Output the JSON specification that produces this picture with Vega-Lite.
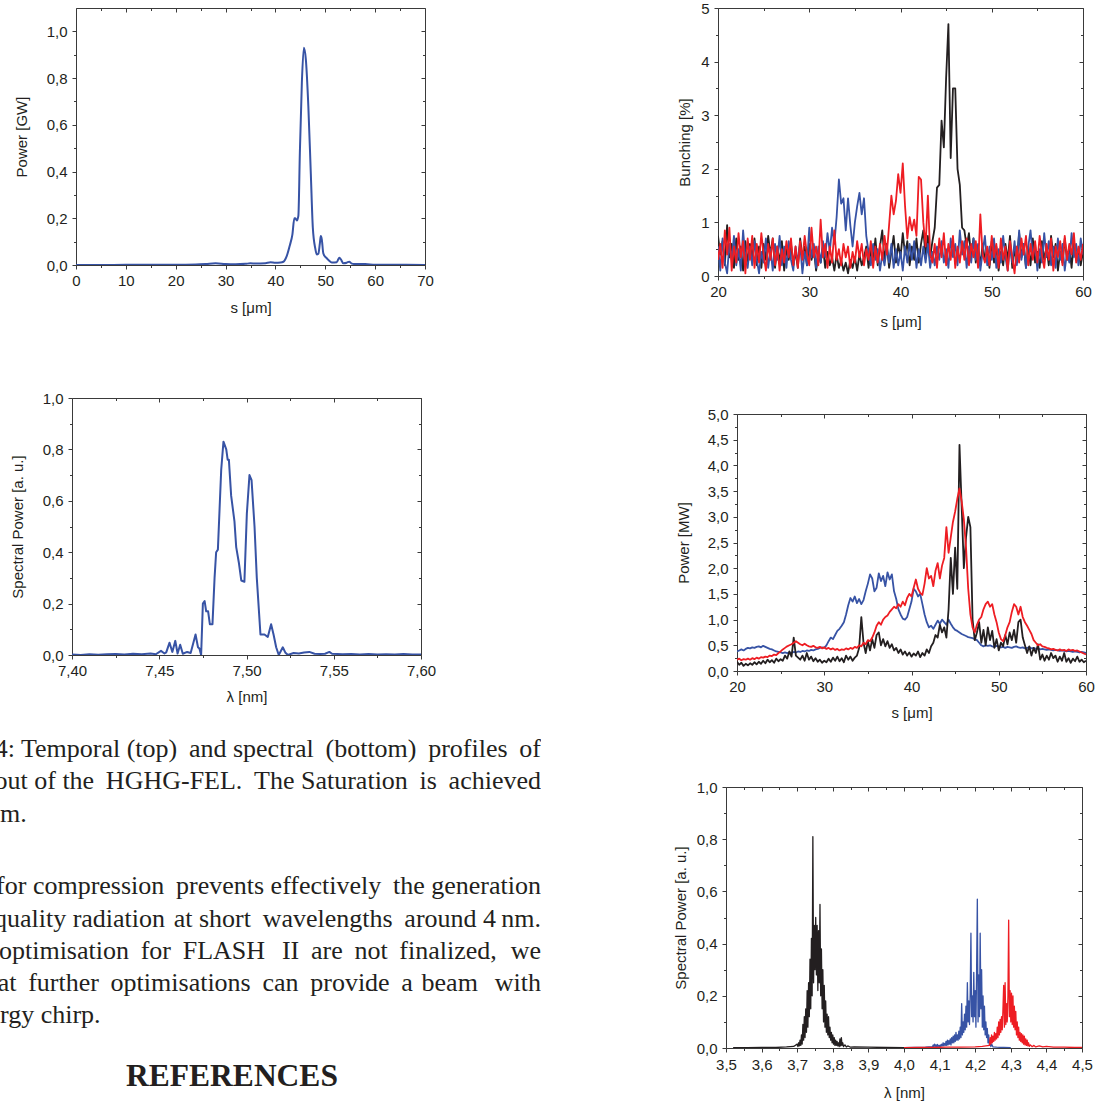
{
"$schema": "https://vega.github.io/schema/vega-lite/v6.json",
"padding": {"left": 0, "top": 0, "right": 0, "bottom": 0},
"background": "white",
"config": {
 "view": {"stroke": "#3a3a3a", "strokeWidth": 1},
 "axis": {"labelFont": "Liberation Sans", "labelFontSize": 15, "titleFont": "Liberation Sans", "titleFontSize": 15, "titleFontWeight": "normal", "labelColor": "#231f20", "titleColor": "#231f20", "tickColor": "#3a3a3a", "tickWidth": 1, "domain": false, "grid": false, "labelFlush": false, "labelOverlap": false},
 "line": {"strokeJoin": "round"}
},
"datasets": {
 "c1": [{"s":0,"p":0},{"s":5,"p":0.0},{"s":10,"p":0.001},{"s":15,"p":0.001},{"s":20,"p":0.001},{"s":24,"p":0.002},{"s":26,"p":0.004},{"s":28,"p":0.007},{"s":30,"p":0.004},{"s":32,"p":0.003},{"s":34,"p":0.005},{"s":35,"p":0.007},{"s":36,"p":0.006},{"s":38,"p":0.008},{"s":39,"p":0.012},{"s":40,"p":0.01},{"s":41,"p":0.011},{"s":41.6,"p":0.014},{"s":42.3,"p":0.04},{"s":42.9,"p":0.085},{"s":43.4,"p":0.13},{"s":43.8,"p":0.2},{"s":44.0,"p":0.2},{"s":44.3,"p":0.19},{"s":44.6,"p":0.21},{"s":44.9,"p":0.48},{"s":45.3,"p":0.78},{"s":45.7,"p":0.93},{"s":46.1,"p":0.88},{"s":46.6,"p":0.68},{"s":47.1,"p":0.39},{"s":47.5,"p":0.16},{"s":48.0,"p":0.07},{"s":48.3,"p":0.045},{"s":48.6,"p":0.048},{"s":48.9,"p":0.09},{"s":49.1,"p":0.124},{"s":49.3,"p":0.11},{"s":49.6,"p":0.05},{"s":50.0,"p":0.035},{"s":50.3,"p":0.029},{"s":50.8,"p":0.018},{"s":51.3,"p":0.011},{"s":52.3,"p":0.012},{"s":52.8,"p":0.031},{"s":53.1,"p":0.025},{"s":53.6,"p":0.008},{"s":54.3,"p":0.01},{"s":54.8,"p":0.014},{"s":55.3,"p":0.006},{"s":56,"p":0.004},{"s":58,"p":0.004},{"s":60,"p":0.001},{"s":65,"p":0.001},{"s":70,"p":0}],
 "c2": [{"l":7.4,"p":0.002},{"l":7.405,"p":0.0},{"l":7.41,"p":0.003},{"l":7.415,"p":0.001},{"l":7.42,"p":0.003},{"l":7.425,"p":0.004},{"l":7.43,"p":0.002},{"l":7.435,"p":0.005},{"l":7.44,"p":0.003},{"l":7.445,"p":0.006},{"l":7.448,"p":0.003},{"l":7.451,"p":0.016},{"l":7.453,"p":0.006},{"l":7.454,"p":0.01},{"l":7.4559,"p":0.048},{"l":7.4575,"p":0.012},{"l":7.4592,"p":0.055},{"l":7.4605,"p":0.006},{"l":7.462,"p":0.04},{"l":7.4635,"p":0.005},{"l":7.466,"p":0.012},{"l":7.468,"p":0.008},{"l":7.4708,"p":0.08},{"l":7.4722,"p":0.03},{"l":7.473,"p":0.025},{"l":7.474,"p":0.0},{"l":7.475,"p":0.2},{"l":7.476,"p":0.21},{"l":7.4769,"p":0.17},{"l":7.478,"p":0.17},{"l":7.479,"p":0.12},{"l":7.4805,"p":0.12},{"l":7.4817,"p":0.3},{"l":7.4826,"p":0.4},{"l":7.4836,"p":0.41},{"l":7.4855,"p":0.72},{"l":7.4868,"p":0.83},{"l":7.4884,"p":0.8},{"l":7.4892,"p":0.76},{"l":7.4899,"p":0.76},{"l":7.4912,"p":0.62},{"l":7.4931,"p":0.52},{"l":7.4941,"p":0.42},{"l":7.4956,"p":0.36},{"l":7.497,"p":0.29},{"l":7.4988,"p":0.285},{"l":7.5002,"p":0.55},{"l":7.5017,"p":0.7},{"l":7.5029,"p":0.68},{"l":7.5046,"p":0.5},{"l":7.5059,"p":0.3},{"l":7.508,"p":0.08},{"l":7.5103,"p":0.08},{"l":7.5122,"p":0.07},{"l":7.5141,"p":0.12},{"l":7.5155,"p":0.08},{"l":7.517,"p":0.03},{"l":7.5185,"p":0.0},{"l":7.5208,"p":0.03},{"l":7.5222,"p":0.01},{"l":7.5237,"p":0.0},{"l":7.527,"p":0.008},{"l":7.53,"p":0.006},{"l":7.533,"p":0.01},{"l":7.536,"p":0.012},{"l":7.539,"p":0.005},{"l":7.542,"p":0.004},{"l":7.545,"p":0.005},{"l":7.5475,"p":0.012},{"l":7.549,"p":0.005},{"l":7.555,"p":0.003},{"l":7.56,"p":0.004},{"l":7.565,"p":0.002},{"l":7.57,"p":0.004},{"l":7.575,"p":0.002},{"l":7.58,"p":0.003},{"l":7.585,"p":0.002},{"l":7.59,"p":0.004},{"l":7.595,"p":0.002},{"l":7.6,"p":0.002}],
 "c3": [{"s":20,"k":0.75,"b":0.55,"r":0.3},{"s":20.25,"k":0.4,"b":0.1,"r":0.6},{"s":20.5,"k":0.65,"b":0.7,"r":0.15},{"s":20.75,"k":0.2,"b":0.25,"r":0.85},{"s":21,"k":0.95,"b":0.05,"r":0.4},{"s":21.25,"k":0.35,"b":0.6,"r":0.9},{"s":21.5,"k":0.6,"b":0.3,"r":0.1},{"s":21.75,"k":0.15,"b":0.75,"r":0.55},{"s":22,"k":0.7,"b":0.2,"r":0.25},{"s":22.25,"k":0.3,"b":0.5,"r":0.8},{"s":22.5,"k":0.55,"b":0.1,"r":0.35},{"s":22.75,"k":0.1,"b":0.85,"r":0.65},{"s":23,"k":0.65,"b":0.35,"r":0.05},{"s":23.25,"k":0.25,"b":0.15,"r":0.7},{"s":23.5,"k":0.6,"b":0.55,"r":0.3},{"s":23.75,"k":0.35,"b":0.2,"r":0.75},{"s":24,"k":0.7,"b":0.65,"r":0.15},{"s":24.25,"k":0.2,"b":0.3,"r":0.6},{"s":24.5,"k":0.55,"b":0.05,"r":0.25},{"s":24.75,"k":0.15,"b":0.45,"r":0.8},{"s":25,"k":0.6,"b":0.25,"r":0.4},{"s":25.25,"k":0.3,"b":0.7,"r":0.1},{"s":25.5,"k":0.75,"b":0.15,"r":0.6},{"s":25.75,"k":0.4,"b":0.5,"r":0.3},{"s":26,"k":0.7,"b":0.1,"r":0.7},{"s":26.25,"k":0.15,"b":0.6,"r":0.2},{"s":26.5,"k":0.55,"b":0.3,"r":0.55},{"s":26.75,"k":0.25,"b":0.75,"r":0.1},{"s":27,"k":0.65,"b":0.2,"r":0.5},{"s":27.25,"k":0.1,"b":0.55,"r":0.25},{"s":27.5,"k":0.5,"b":0.15,"r":0.65},{"s":27.75,"k":0.3,"b":0.65,"r":0.35},{"s":28,"k":0.6,"b":0.3,"r":0.7},{"s":28.25,"k":0.2,"b":0.1,"r":0.2},{"s":28.5,"k":0.45,"b":0.55,"r":0.55},{"s":28.75,"k":0.15,"b":0.25,"r":0.15},{"s":29,"k":0.7,"b":0.6,"r":0.65},{"s":29.25,"k":0.35,"b":0.05,"r":0.3},{"s":29.5,"k":0.55,"b":0.45,"r":0.75},{"s":29.75,"k":0.2,"b":0.2,"r":0.4},{"s":30,"k":0.6,"b":0.9,"r":0.2},{"s":30.25,"k":0.3,"b":0.35,"r":0.9},{"s":30.5,"k":0.5,"b":0.6,"r":0.35},{"s":30.75,"k":0.1,"b":0.15,"r":0.55},{"s":31,"k":0.4,"b":0.55,"r":0.2},{"s":31.25,"k":0.25,"b":0.25,"r":1.05},{"s":31.5,"k":0.55,"b":0.65,"r":0.35},{"s":31.75,"k":0.15,"b":0.35,"r":0.6},{"s":32,"k":0.45,"b":0.8,"r":0.15},{"s":32.25,"k":0.2,"b":0.45,"r":0.55},{"s":32.5,"k":0.35,"b":0.9,"r":0.25},{"s":32.75,"k":0.1,"b":0.6,"r":0.85},{"s":33,"k":0.4,"b":1.1,"r":0.3},{"s":33.25,"k":0.15,"b":1.8,"r":0.5},{"s":33.5,"k":0.3,"b":1.35,"r":0.2},{"s":33.75,"k":0.1,"b":1.45,"r":0.6},{"s":34,"k":0.25,"b":0.85,"r":0.35},{"s":34.25,"k":0.05,"b":1.45,"r":0.55},{"s":34.5,"k":0.3,"b":0.95,"r":0.15},{"s":34.75,"k":0.15,"b":0.55,"r":0.45},{"s":35,"k":0.35,"b":1.0,"r":0.25},{"s":35.25,"k":0.1,"b":1.3,"r":0.65},{"s":35.5,"k":0.4,"b":1.55,"r":0.35},{"s":35.75,"k":0.2,"b":1.15,"r":0.6},{"s":36,"k":0.35,"b":1.45,"r":0.2},{"s":36.25,"k":0.55,"b":0.75,"r":0.5},{"s":36.5,"k":0.15,"b":0.45,"r":0.3},{"s":36.75,"k":0.5,"b":0.2,"r":0.65},{"s":37,"k":0.3,"b":0.6,"r":0.15},{"s":37.25,"k":0.7,"b":0.3,"r":0.55},{"s":37.5,"k":0.2,"b":0.5,"r":0.25},{"s":37.75,"k":0.55,"b":0.1,"r":0.6},{"s":38,"k":0.85,"b":0.4,"r":0.3},{"s":38.25,"k":0.3,"b":0.2,"r":0.75},{"s":38.5,"k":0.6,"b":0.55,"r":0.4},{"s":38.75,"k":0.15,"b":0.25,"r":0.95},{"s":39,"k":0.45,"b":0.6,"r":1.5},{"s":39.25,"k":0.75,"b":0.15,"r":1.15},{"s":39.5,"k":0.25,"b":0.5,"r":1.4},{"s":39.75,"k":0.6,"b":0.2,"r":1.9},{"s":40,"k":0.35,"b":0.45,"r":1.55},{"s":40.25,"k":0.8,"b":0.1,"r":2.1},{"s":40.5,"k":0.4,"b":0.55,"r":1.3},{"s":40.75,"k":0.65,"b":0.25,"r":0.7},{"s":41,"k":0.2,"b":0.6,"r":1.1},{"s":41.25,"k":0.55,"b":0.3,"r":0.85},{"s":41.5,"k":0.3,"b":0.65,"r":1.05},{"s":41.75,"k":0.7,"b":0.15,"r":0.75},{"s":42,"k":0.25,"b":0.5,"r":1.85},{"s":42.25,"k":0.6,"b":0.2,"r":1.8},{"s":42.5,"k":0.85,"b":0.55,"r":1.0},{"s":42.75,"k":0.4,"b":0.25,"r":0.55},{"s":43,"k":0.75,"b":0.6,"r":1.5},{"s":43.25,"k":0.35,"b":0.15,"r":0.4},{"s":43.5,"k":0.65,"b":0.45,"r":0.25},{"s":43.75,"k":0.9,"b":0.2,"r":0.6},{"s":44,"k":1.65,"b":0.55,"r":0.15},{"s":44.25,"k":1.7,"b":0.3,"r":0.7},{"s":44.5,"k":2.9,"b":0.65,"r":0.35},{"s":44.75,"k":2.4,"b":0.25,"r":0.8},{"s":45,"k":3.7,"b":0.5,"r":0.2},{"s":45.25,"k":4.7,"b":0.15,"r":0.6},{"s":45.5,"k":2.2,"b":0.7,"r":0.3},{"s":45.75,"k":3.5,"b":0.35,"r":0.75},{"s":46,"k":3.5,"b":0.6,"r":0.15},{"s":46.25,"k":2.0,"b":0.2,"r":0.55},{"s":46.5,"k":1.7,"b":0.85,"r":0.25},{"s":46.75,"k":0.9,"b":0.4,"r":0.65},{"s":47,"k":0.85,"b":0.65,"r":0.3},{"s":47.25,"k":0.55,"b":0.15,"r":0.7},{"s":47.5,"k":0.8,"b":0.55,"r":0.2},{"s":47.75,"k":0.35,"b":0.25,"r":0.6},{"s":48,"k":0.7,"b":0.7,"r":0.35},{"s":48.25,"k":0.25,"b":0.3,"r":0.65},{"s":48.5,"k":0.55,"b":0.6,"r":0.15},{"s":48.75,"k":0.2,"b":0.1,"r":1.15},{"s":49,"k":0.6,"b":0.45,"r":0.4},{"s":49.25,"k":0.3,"b":0.75,"r":0.25},{"s":49.5,"k":0.5,"b":0.2,"r":0.55},{"s":49.75,"k":0.15,"b":0.55,"r":0.2},{"s":50,"k":0.65,"b":0.3,"r":0.75},{"s":50.25,"k":0.25,"b":0.7,"r":0.35},{"s":50.5,"k":0.55,"b":0.15,"r":0.6},{"s":50.75,"k":0.1,"b":0.5,"r":0.15},{"s":51,"k":0.45,"b":0.25,"r":0.7},{"s":51.25,"k":0.2,"b":0.75,"r":0.3},{"s":51.5,"k":0.6,"b":0.35,"r":0.55},{"s":51.75,"k":0.3,"b":0.1,"r":0.1},{"s":52,"k":0.75,"b":0.55,"r":0.65},{"s":52.25,"k":0.15,"b":0.25,"r":0.35},{"s":52.5,"k":0.5,"b":0.65,"r":0.05},{"s":52.75,"k":0.25,"b":0.2,"r":0.55},{"s":53,"k":0.8,"b":0.85,"r":0.25},{"s":53.25,"k":0.35,"b":0.3,"r":0.7},{"s":53.5,"k":0.6,"b":0.6,"r":0.4},{"s":53.75,"k":0.15,"b":0.15,"r":0.75},{"s":54,"k":0.55,"b":0.55,"r":0.2},{"s":54.25,"k":0.2,"b":0.85,"r":0.6},{"s":54.5,"k":0.7,"b":0.35,"r":0.3},{"s":54.75,"k":0.25,"b":0.6,"r":0.65},{"s":55,"k":0.45,"b":0.1,"r":0.25},{"s":55.25,"k":0.15,"b":0.5,"r":0.75},{"s":55.5,"k":0.65,"b":0.25,"r":0.4},{"s":55.75,"k":0.3,"b":0.8,"r":0.15},{"s":56,"k":0.55,"b":0.35,"r":0.6},{"s":56.25,"k":0.2,"b":0.65,"r":0.3},{"s":56.5,"k":0.75,"b":0.2,"r":0.7},{"s":56.75,"k":0.35,"b":0.55,"r":0.1},{"s":57,"k":0.6,"b":0.15,"r":0.55},{"s":57.25,"k":0.1,"b":0.7,"r":0.35},{"s":57.5,"k":0.45,"b":0.3,"r":0.65},{"s":57.75,"k":0.25,"b":0.6,"r":0.2},{"s":58,"k":0.7,"b":0.1,"r":0.75},{"s":58.25,"k":0.3,"b":0.45,"r":0.3},{"s":58.5,"k":0.55,"b":0.25,"r":0.6},{"s":58.75,"k":0.15,"b":0.8,"r":0.4},{"s":59,"k":0.65,"b":0.35,"r":0.8},{"s":59.25,"k":0.3,"b":0.6,"r":0.25},{"s":59.5,"k":0.5,"b":0.2,"r":0.55},{"s":59.75,"k":0.2,"b":0.7,"r":0.3},{"s":60,"k":0.45,"b":0.4,"r":0.6}],
 "c4": [{"s":20,"k":0.18,"b":0.38,"r":0.22},{"s":20.25,"k":0.12,"b":0.4,"r":0.24},{"s":20.5,"k":0.16,"b":0.42,"r":0.21},{"s":20.75,"k":0.1,"b":0.4,"r":0.23},{"s":21,"k":0.14,"b":0.43,"r":0.22},{"s":21.25,"k":0.11,"b":0.45,"r":0.24},{"s":21.5,"k":0.15,"b":0.44,"r":0.22},{"s":21.75,"k":0.12,"b":0.46,"r":0.25},{"s":22,"k":0.17,"b":0.45,"r":0.23},{"s":22.25,"k":0.13,"b":0.47,"r":0.26},{"s":22.5,"k":0.18,"b":0.48,"r":0.24},{"s":22.75,"k":0.14,"b":0.46,"r":0.27},{"s":23,"k":0.2,"b":0.49,"r":0.26},{"s":23.25,"k":0.15,"b":0.47,"r":0.28},{"s":23.5,"k":0.22,"b":0.45,"r":0.27},{"s":23.75,"k":0.17,"b":0.43,"r":0.3},{"s":24,"k":0.21,"b":0.42,"r":0.29},{"s":24.25,"k":0.16,"b":0.4,"r":0.32},{"s":24.5,"k":0.24,"b":0.38,"r":0.31},{"s":24.75,"k":0.19,"b":0.37,"r":0.35},{"s":25,"k":0.23,"b":0.36,"r":0.38},{"s":25.25,"k":0.2,"b":0.35,"r":0.42},{"s":25.5,"k":0.3,"b":0.36,"r":0.45},{"s":25.75,"k":0.24,"b":0.35,"r":0.48},{"s":26,"k":0.38,"b":0.36,"r":0.5},{"s":26.25,"k":0.28,"b":0.35,"r":0.52},{"s":26.5,"k":0.65,"b":0.37,"r":0.55},{"s":26.75,"k":0.3,"b":0.36,"r":0.58},{"s":27,"k":0.26,"b":0.38,"r":0.55},{"s":27.25,"k":0.22,"b":0.37,"r":0.52},{"s":27.5,"k":0.3,"b":0.39,"r":0.5},{"s":27.75,"k":0.2,"b":0.38,"r":0.53},{"s":28,"k":0.35,"b":0.4,"r":0.5},{"s":28.25,"k":0.22,"b":0.39,"r":0.48},{"s":28.5,"k":0.28,"b":0.41,"r":0.47},{"s":28.75,"k":0.19,"b":0.4,"r":0.49},{"s":29,"k":0.25,"b":0.42,"r":0.46},{"s":29.25,"k":0.18,"b":0.43,"r":0.45},{"s":29.5,"k":0.22,"b":0.45,"r":0.47},{"s":29.75,"k":0.16,"b":0.46,"r":0.44},{"s":30,"k":0.2,"b":0.45,"r":0.46},{"s":30.25,"k":0.17,"b":0.5,"r":0.43},{"s":30.5,"k":0.24,"b":0.58,"r":0.45},{"s":30.75,"k":0.18,"b":0.65,"r":0.42},{"s":31,"k":0.26,"b":0.62,"r":0.44},{"s":31.25,"k":0.2,"b":0.7,"r":0.41},{"s":31.5,"k":0.28,"b":0.78,"r":0.43},{"s":31.75,"k":0.19,"b":0.82,"r":0.4},{"s":32,"k":0.25,"b":0.88,"r":0.42},{"s":32.25,"k":0.17,"b":0.95,"r":0.41},{"s":32.5,"k":0.3,"b":1.1,"r":0.44},{"s":32.75,"k":0.22,"b":1.28,"r":0.42},{"s":33,"k":0.28,"b":1.42,"r":0.45},{"s":33.25,"k":0.2,"b":1.35,"r":0.43},{"s":33.5,"k":0.26,"b":1.45,"r":0.47},{"s":33.75,"k":0.3,"b":1.32,"r":0.45},{"s":34,"k":0.45,"b":1.4,"r":0.5},{"s":34.25,"k":1.05,"b":1.3,"r":0.48},{"s":34.5,"k":0.55,"b":1.38,"r":0.55},{"s":34.75,"k":0.35,"b":1.55,"r":0.52},{"s":35,"k":0.58,"b":1.7,"r":0.6},{"s":35.25,"k":0.4,"b":1.88,"r":0.58},{"s":35.5,"k":0.62,"b":1.8,"r":0.65},{"s":35.75,"k":0.45,"b":1.55,"r":0.75},{"s":36,"k":0.7,"b":1.62,"r":0.88},{"s":36.25,"k":0.75,"b":1.9,"r":0.95},{"s":36.5,"k":0.5,"b":1.75,"r":0.9},{"s":36.75,"k":0.62,"b":1.85,"r":1.0},{"s":37,"k":0.48,"b":1.65,"r":1.05},{"s":37.25,"k":0.58,"b":1.92,"r":1.08},{"s":37.5,"k":0.45,"b":1.78,"r":1.15},{"s":37.75,"k":0.52,"b":1.88,"r":1.2},{"s":38,"k":0.4,"b":1.55,"r":1.25},{"s":38.25,"k":0.45,"b":1.4,"r":1.22},{"s":38.5,"k":0.35,"b":1.2,"r":1.3},{"s":38.75,"k":0.42,"b":1.1,"r":1.25},{"s":39,"k":0.32,"b":1.02,"r":1.35},{"s":39.25,"k":0.38,"b":1.0,"r":1.28},{"s":39.5,"k":0.3,"b":1.05,"r":1.42},{"s":39.75,"k":0.36,"b":1.2,"r":1.5},{"s":40,"k":0.28,"b":1.35,"r":1.45},{"s":40.25,"k":0.34,"b":1.6,"r":1.62},{"s":40.5,"k":0.3,"b":1.55,"r":1.78},{"s":40.75,"k":0.38,"b":1.45,"r":1.6},{"s":41,"k":0.27,"b":1.5,"r":1.52},{"s":41.25,"k":0.35,"b":1.3,"r":1.48},{"s":41.5,"k":0.3,"b":1.1,"r":1.7},{"s":41.75,"k":0.42,"b":0.95,"r":2.0},{"s":42,"k":0.35,"b":0.85,"r":1.8},{"s":42.25,"k":0.48,"b":0.88,"r":1.85},{"s":42.5,"k":0.55,"b":0.82,"r":1.65},{"s":42.75,"k":0.7,"b":0.9,"r":1.95},{"s":43,"k":0.65,"b":0.98,"r":2.1},{"s":43.25,"k":0.9,"b":0.92,"r":1.8},{"s":43.5,"k":0.75,"b":1.0,"r":2.05},{"s":43.75,"k":0.85,"b":0.95,"r":2.2},{"s":44,"k":0.65,"b":0.9,"r":2.8},{"s":44.25,"k":1.2,"b":1.0,"r":2.3},{"s":44.5,"k":2.2,"b":0.92,"r":2.6},{"s":44.75,"k":1.5,"b":0.85,"r":2.9},{"s":45,"k":2.4,"b":0.8,"r":3.1},{"s":45.25,"k":1.6,"b":0.78,"r":3.35},{"s":45.5,"k":4.4,"b":0.75,"r":3.55},{"s":45.75,"k":3.2,"b":0.72,"r":3.3},{"s":46,"k":2.0,"b":0.7,"r":2.95},{"s":46.25,"k":2.6,"b":0.68,"r":2.4},{"s":46.5,"k":3.0,"b":0.66,"r":1.6},{"s":46.75,"k":2.8,"b":0.65,"r":1.1},{"s":47,"k":1.0,"b":0.64,"r":0.85},{"s":47.25,"k":0.6,"b":0.62,"r":0.75},{"s":47.5,"k":0.75,"b":0.6,"r":0.9},{"s":47.75,"k":0.95,"b":0.55,"r":1.0},{"s":48,"k":0.55,"b":0.5,"r":1.05},{"s":48.25,"k":0.8,"b":0.48,"r":1.2},{"s":48.5,"k":0.5,"b":0.5,"r":1.3},{"s":48.75,"k":0.85,"b":0.49,"r":1.35},{"s":49,"k":0.6,"b":0.5,"r":1.25},{"s":49.25,"k":0.78,"b":0.48,"r":1.3},{"s":49.5,"k":0.45,"b":0.47,"r":1.1},{"s":49.75,"k":0.62,"b":0.49,"r":0.95},{"s":50,"k":0.4,"b":0.48,"r":0.75},{"s":50.25,"k":0.55,"b":0.46,"r":0.62},{"s":50.5,"k":0.48,"b":0.47,"r":0.58},{"s":50.75,"k":0.7,"b":0.45,"r":0.7},{"s":51,"k":0.52,"b":0.47,"r":0.85},{"s":51.25,"k":0.75,"b":0.46,"r":0.95},{"s":51.5,"k":0.6,"b":0.45,"r":1.15},{"s":51.75,"k":0.8,"b":0.47,"r":1.3},{"s":52,"k":0.55,"b":0.48,"r":1.25},{"s":52.25,"k":0.95,"b":0.46,"r":1.1},{"s":52.5,"k":1.0,"b":0.45,"r":1.25},{"s":52.75,"k":0.65,"b":0.46,"r":1.05},{"s":53,"k":0.5,"b":0.44,"r":0.95},{"s":53.25,"k":0.35,"b":0.45,"r":0.88},{"s":53.5,"k":0.48,"b":0.46,"r":0.8},{"s":53.75,"k":0.3,"b":0.44,"r":0.72},{"s":54,"k":0.45,"b":0.45,"r":0.6},{"s":54.25,"k":0.35,"b":0.43,"r":0.55},{"s":54.5,"k":0.52,"b":0.44,"r":0.5},{"s":54.75,"k":0.22,"b":0.42,"r":0.52},{"s":55,"k":0.32,"b":0.43,"r":0.48},{"s":55.25,"k":0.2,"b":0.42,"r":0.47},{"s":55.5,"k":0.3,"b":0.41,"r":0.45},{"s":55.75,"k":0.22,"b":0.42,"r":0.44},{"s":56,"k":0.35,"b":0.41,"r":0.42},{"s":56.25,"k":0.25,"b":0.4,"r":0.43},{"s":56.5,"k":0.3,"b":0.41,"r":0.41},{"s":56.75,"k":0.18,"b":0.4,"r":0.4},{"s":57,"k":0.28,"b":0.39,"r":0.42},{"s":57.25,"k":0.2,"b":0.4,"r":0.4},{"s":57.5,"k":0.35,"b":0.39,"r":0.41},{"s":57.75,"k":0.18,"b":0.38,"r":0.39},{"s":58,"k":0.25,"b":0.39,"r":0.42},{"s":58.25,"k":0.16,"b":0.38,"r":0.4},{"s":58.5,"k":0.24,"b":0.37,"r":0.41},{"s":58.75,"k":0.19,"b":0.38,"r":0.39},{"s":59,"k":0.28,"b":0.37,"r":0.4},{"s":59.25,"k":0.18,"b":0.36,"r":0.38},{"s":59.5,"k":0.22,"b":0.37,"r":0.36},{"s":59.75,"k":0.17,"b":0.36,"r":0.34},{"s":60,"k":0.2,"b":0.35,"r":0.32}],
 "c5k": [{"l":3.52,"p":0.001},{"l":3.56,"p":0.001},{"l":3.6,"p":0.002},{"l":3.64,"p":0.002},{"l":3.67,"p":0.004},{"l":3.69,"p":0.006},{"l":3.7,"p":0.015},{"l":3.702,"p":0.005},{"l":3.704,"p":0.02},{"l":3.706,"p":0.008},{"l":3.708,"p":0.03},{"l":3.71,"p":0.01},{"l":3.712,"p":0.05},{"l":3.714,"p":0.015},{"l":3.716,"p":0.09},{"l":3.718,"p":0.03},{"l":3.72,"p":0.12},{"l":3.722,"p":0.04},{"l":3.724,"p":0.15},{"l":3.726,"p":0.06},{"l":3.728,"p":0.22},{"l":3.73,"p":0.08},{"l":3.732,"p":0.25},{"l":3.734,"p":0.12},{"l":3.736,"p":0.34},{"l":3.738,"p":0.15},{"l":3.74,"p":0.42},{"l":3.742,"p":0.2},{"l":3.744,"p":0.81},{"l":3.746,"p":0.25},{"l":3.748,"p":0.47},{"l":3.75,"p":0.3},{"l":3.752,"p":0.5},{"l":3.754,"p":0.28},{"l":3.756,"p":0.47},{"l":3.758,"p":0.22},{"l":3.76,"p":0.45},{"l":3.762,"p":0.25},{"l":3.764,"p":0.55},{"l":3.766,"p":0.2},{"l":3.768,"p":0.38},{"l":3.77,"p":0.15},{"l":3.772,"p":0.3},{"l":3.774,"p":0.1},{"l":3.776,"p":0.24},{"l":3.778,"p":0.08},{"l":3.78,"p":0.18},{"l":3.782,"p":0.06},{"l":3.784,"p":0.13},{"l":3.786,"p":0.05},{"l":3.788,"p":0.12},{"l":3.79,"p":0.04},{"l":3.792,"p":0.08},{"l":3.794,"p":0.03},{"l":3.796,"p":0.06},{"l":3.798,"p":0.02},{"l":3.8,"p":0.05},{"l":3.802,"p":0.015},{"l":3.804,"p":0.04},{"l":3.806,"p":0.01},{"l":3.808,"p":0.03},{"l":3.81,"p":0.01},{"l":3.812,"p":0.025},{"l":3.814,"p":0.008},{"l":3.816,"p":0.02},{"l":3.818,"p":0.005},{"l":3.82,"p":0.035},{"l":3.822,"p":0.008},{"l":3.824,"p":0.04},{"l":3.826,"p":0.01},{"l":3.828,"p":0.02},{"l":3.83,"p":0.005},{"l":3.834,"p":0.012},{"l":3.838,"p":0.004},{"l":3.842,"p":0.008},{"l":3.85,"p":0.003},{"l":3.86,"p":0.004},{"l":3.9,"p":0.003},{"l":3.95,"p":0.002},{"l":4.0,"p":0.001}],
 "c5b": [{"l":4.0,"p":0.001},{"l":4.03,"p":0.002},{"l":4.06,"p":0.003},{"l":4.08,"p":0.005},{"l":4.082,"p":0.012},{"l":4.084,"p":0.004},{"l":4.086,"p":0.015},{"l":4.088,"p":0.006},{"l":4.09,"p":0.012},{"l":4.092,"p":0.004},{"l":4.094,"p":0.014},{"l":4.096,"p":0.006},{"l":4.098,"p":0.01},{"l":4.1,"p":0.005},{"l":4.102,"p":0.012},{"l":4.104,"p":0.006},{"l":4.106,"p":0.015},{"l":4.108,"p":0.008},{"l":4.11,"p":0.02},{"l":4.112,"p":0.008},{"l":4.114,"p":0.018},{"l":4.116,"p":0.01},{"l":4.118,"p":0.025},{"l":4.12,"p":0.01},{"l":4.122,"p":0.03},{"l":4.124,"p":0.012},{"l":4.126,"p":0.028},{"l":4.128,"p":0.015},{"l":4.13,"p":0.035},{"l":4.132,"p":0.012},{"l":4.134,"p":0.04},{"l":4.136,"p":0.02},{"l":4.138,"p":0.045},{"l":4.14,"p":0.02},{"l":4.142,"p":0.05},{"l":4.144,"p":0.025},{"l":4.146,"p":0.06},{"l":4.148,"p":0.03},{"l":4.15,"p":0.05},{"l":4.152,"p":0.03},{"l":4.154,"p":0.065},{"l":4.156,"p":0.035},{"l":4.158,"p":0.08},{"l":4.16,"p":0.04},{"l":4.162,"p":0.17},{"l":4.164,"p":0.05},{"l":4.166,"p":0.1},{"l":4.168,"p":0.06},{"l":4.17,"p":0.13},{"l":4.172,"p":0.07},{"l":4.174,"p":0.16},{"l":4.176,"p":0.08},{"l":4.178,"p":0.25},{"l":4.18,"p":0.1},{"l":4.182,"p":0.18},{"l":4.184,"p":0.09},{"l":4.186,"p":0.21},{"l":4.188,"p":0.44},{"l":4.19,"p":0.12},{"l":4.192,"p":0.2},{"l":4.194,"p":0.1},{"l":4.196,"p":0.29},{"l":4.198,"p":0.12},{"l":4.2,"p":0.22},{"l":4.202,"p":0.08},{"l":4.204,"p":0.3},{"l":4.206,"p":0.57},{"l":4.208,"p":0.1},{"l":4.21,"p":0.28},{"l":4.212,"p":0.12},{"l":4.214,"p":0.44},{"l":4.216,"p":0.15},{"l":4.218,"p":0.3},{"l":4.22,"p":0.08},{"l":4.222,"p":0.2},{"l":4.224,"p":0.07},{"l":4.226,"p":0.16},{"l":4.228,"p":0.05},{"l":4.23,"p":0.1},{"l":4.232,"p":0.04},{"l":4.234,"p":0.075},{"l":4.236,"p":0.02},{"l":4.238,"p":0.05},{"l":4.24,"p":0.01},{"l":4.242,"p":0.03},{"l":4.244,"p":0.005},{"l":4.246,"p":0.015},{"l":4.25,"p":0.004},{"l":4.26,"p":0.003},{"l":4.28,"p":0.002},{"l":4.3,"p":0.001}],
 "c5r": [{"l":4.0,"p":0.001},{"l":4.04,"p":0.002},{"l":4.08,"p":0.002},{"l":4.12,"p":0.003},{"l":4.16,"p":0.003},{"l":4.2,"p":0.004},{"l":4.22,"p":0.006},{"l":4.23,"p":0.008},{"l":4.24,"p":0.01},{"l":4.242,"p":0.04},{"l":4.244,"p":0.015},{"l":4.246,"p":0.05},{"l":4.248,"p":0.02},{"l":4.25,"p":0.045},{"l":4.252,"p":0.025},{"l":4.254,"p":0.06},{"l":4.256,"p":0.03},{"l":4.258,"p":0.055},{"l":4.26,"p":0.035},{"l":4.262,"p":0.08},{"l":4.264,"p":0.04},{"l":4.266,"p":0.1},{"l":4.268,"p":0.05},{"l":4.27,"p":0.11},{"l":4.272,"p":0.06},{"l":4.274,"p":0.12},{"l":4.276,"p":0.07},{"l":4.278,"p":0.15},{"l":4.28,"p":0.24},{"l":4.282,"p":0.08},{"l":4.284,"p":0.25},{"l":4.286,"p":0.09},{"l":4.288,"p":0.17},{"l":4.29,"p":0.1},{"l":4.292,"p":0.2},{"l":4.294,"p":0.49},{"l":4.296,"p":0.12},{"l":4.298,"p":0.22},{"l":4.3,"p":0.1},{"l":4.302,"p":0.21},{"l":4.304,"p":0.09},{"l":4.306,"p":0.2},{"l":4.308,"p":0.08},{"l":4.31,"p":0.16},{"l":4.312,"p":0.07},{"l":4.314,"p":0.14},{"l":4.316,"p":0.05},{"l":4.318,"p":0.1},{"l":4.32,"p":0.04},{"l":4.322,"p":0.08},{"l":4.324,"p":0.03},{"l":4.326,"p":0.06},{"l":4.328,"p":0.025},{"l":4.33,"p":0.055},{"l":4.332,"p":0.02},{"l":4.334,"p":0.05},{"l":4.336,"p":0.015},{"l":4.338,"p":0.045},{"l":4.34,"p":0.012},{"l":4.342,"p":0.035},{"l":4.344,"p":0.01},{"l":4.346,"p":0.03},{"l":4.348,"p":0.008},{"l":4.35,"p":0.02},{"l":4.352,"p":0.006},{"l":4.355,"p":0.012},{"l":4.36,"p":0.005},{"l":4.365,"p":0.01},{"l":4.37,"p":0.004},{"l":4.38,"p":0.008},{"l":4.39,"p":0.004},{"l":4.4,"p":0.006},{"l":4.42,"p":0.003},{"l":4.45,"p":0.003},{"l":4.48,"p":0.002},{"l":4.5,"p":0.002}],
 "txt": [
  {"line":0,"kind":"full","t":"4: Temporal (top) \u2009and spectral \u2009(bottom) \u2009profiles \u2009of"},
  {"line":1,"kind":"full","t":"out of the \u2009HGHG-FEL. \u2009The Saturation \u2009is \u2009achieved"},
  {"line":2,"kind":"last","t":"\u00a0\u00a0m."},
  {"line":4.25,"kind":"full","t":"for compression \u2009prevents effectively \u2009the generation"},
  {"line":5.25,"kind":"full","t":"quality radiation \u200aat short \u2009wavelengths \u2009around 4\u2009nm."},
  {"line":6.25,"kind":"full","t":"optimisation \u2009for \u2009FLASH \u2009\u2009II \u2009are \u2009not \u2009finalized, \u2009\u200awe"},
  {"line":7.25,"kind":"full","t":"at \u2009further \u2009optimisations \u2009can \u2009provide \u2009a \u200abeam \u2009\u2009with"},
  {"line":8.25,"kind":"last","t":"rgy chirp."},
  {"line":10.15,"kind":"heading","t":"REFERENCES"}
 ]
},
"spacing": 129,
"hconcat": [
 {"spacing": 28, "vconcat": [
  {"spacing": 74, "vconcat": [
   {"spacing": 0, "hconcat": [
    {"width": 13, "height": 1, "view": {"stroke": null}, "data": {"values": []}, "mark": {"type": "text", "text": ""}, "encoding": {}},
    {"width": 349, "height": 257, "data": {"name": "c1"},
     "layer": [
      {"mark": {"type": "line", "color": "#3753a5", "strokeWidth": 2, "interpolate": "monotone", "clip": true},
       "encoding": {
        "x": {"field": "s", "type": "quantitative", "scale": {"domain": [0, 70], "nice": false, "zero": false},
              "axis": {"orient": "bottom", "values": [0,5,10,15,20,25,30,35,40,45,50,55,60,65,70], "labelExpr": "datum.value % 10 == 0 ? format(datum.value, 'd') : ''", "tickSize": {"condition": {"test": "datum.value % 10 == 0", "value": 4}, "value": 2.5}, "labelPadding": 4, "title": "s [μm]", "titlePadding": 12.5}},
        "y": {"field": "p", "type": "quantitative", "scale": {"domain": [0, 1.1], "nice": false},
              "axis": {"orient": "left", "values": [0,0.1,0.2,0.3,0.4,0.5,0.6,0.7,0.8,0.9,1.0], "labelExpr": "abs(datum.value*5-round(datum.value*5)) < 0.001 ? replace(format(datum.value, '.1f'), '.', ',') : ''", "tickSize": {"condition": {"test": "abs(datum.value*5-round(datum.value*5)) < 0.001", "value": 4}, "value": 2.5}, "labelPadding": 5, "title": "Power [GW]", "titlePadding": 17}}
       }},
      {"mark": {"type": "line", "opacity": 0},
       "encoding": {
        "x": {"field": "s", "type": "quantitative", "axis": {"orient": "top", "values": [0,5,10,15,20,25,30,35,40,45,50,55,60,65,70], "labels": false, "title": null, "tickSize": {"condition": {"test": "datum.value % 10 == 0", "value": -4}, "value": -2.5}}},
        "y": {"field": "p", "type": "quantitative", "axis": {"orient": "right", "values": [0,0.1,0.2,0.3,0.4,0.5,0.6,0.7,0.8,0.9,1.0], "labels": false, "title": null, "tickSize": {"condition": {"test": "abs(datum.value*5-round(datum.value*5)) < 0.001", "value": -4}, "value": -2.5}}}
       }}
     ],
     "resolve": {"axis": {"x": "independent", "y": "independent"}}
    }
   ]},
   {"spacing": 0, "hconcat": [
    {"width": 9, "height": 1, "view": {"stroke": null}, "data": {"values": []}, "mark": {"type": "text", "text": ""}, "encoding": {}},
    {"width": 349, "height": 257, "data": {"name": "c2"},
     "layer": [
      {"mark": {"type": "line", "color": "#3753a5", "strokeWidth": 2, "clip": true},
       "encoding": {
        "x": {"field": "l", "type": "quantitative", "scale": {"domain": [7.4, 7.6], "nice": false, "zero": false},
              "axis": {"orient": "bottom", "values": [7.4,7.425,7.45,7.475,7.5,7.525,7.55,7.575,7.6], "labelExpr": "abs(datum.value*20-round(datum.value*20)) < 0.001 ? replace(format(datum.value, '.2f'), '.', ',') : ''", "tickSize": {"condition": {"test": "abs(datum.value*20-round(datum.value*20)) < 0.001", "value": 4}, "value": 2.5}, "labelPadding": 4, "title": "λ [nm]", "titlePadding": 11.5}},
        "y": {"field": "p", "type": "quantitative", "scale": {"domain": [0, 1], "nice": false},
              "axis": {"orient": "left", "values": [0,0.1,0.2,0.3,0.4,0.5,0.6,0.7,0.8,0.9,1.0], "labelExpr": "abs(datum.value*5-round(datum.value*5)) < 0.001 ? replace(format(datum.value, '.1f'), '.', ',') : ''", "tickSize": {"condition": {"test": "abs(datum.value*5-round(datum.value*5)) < 0.001", "value": 4}, "value": 2.5}, "labelPadding": 5, "title": "Spectral Power [a. u.]", "titlePadding": 17}}
       }},
      {"mark": {"type": "line", "opacity": 0},
       "encoding": {
        "x": {"field": "l", "type": "quantitative", "axis": {"orient": "top", "values": [7.4,7.425,7.45,7.475,7.5,7.525,7.55,7.575,7.6], "labels": false, "title": null, "tickSize": {"condition": {"test": "abs(datum.value*20-round(datum.value*20)) < 0.001", "value": -4}, "value": -2.5}}},
        "y": {"field": "p", "type": "quantitative", "axis": {"orient": "right", "values": [0,0.1,0.2,0.3,0.4,0.5,0.6,0.7,0.8,0.9,1.0], "labels": false, "title": null, "tickSize": {"condition": {"test": "abs(datum.value*5-round(datum.value*5)) < 0.001", "value": -4}, "value": -2.5}}}
       }}
     ],
     "resolve": {"axis": {"x": "independent", "y": "independent"}}
    }
   ]}
  ]},
  {"width": 541, "height": 355, "data": {"name": "txt"}, "view": {"stroke": null},
   "layer": [
    {"transform": [{"filter": "datum.kind == 'full'"}],
     "mark": {"type": "text", "align": "right", "baseline": "middle", "font": "Liberation Serif", "fontSize": 26, "color": "#231f20", "clip": true},
     "encoding": {"x": {"datum": 1, "type": "quantitative", "scale": {"domain": [0.1246, 1], "nice": false, "zero": false}, "axis": null},
                  "y": {"field": "line", "type": "quantitative", "scale": {"domain": [-0.5, 10.5], "nice": false, "zero": false, "reverse": true}, "axis": null},
                  "text": {"field": "t"}}},
    {"transform": [{"filter": "datum.kind == 'last'"}],
     "mark": {"type": "text", "align": "left", "baseline": "middle", "font": "Liberation Serif", "fontSize": 26, "color": "#231f20", "clip": true},
     "encoding": {"x": {"datum": 0.1246, "type": "quantitative", "axis": null},
                  "y": {"field": "line", "type": "quantitative", "axis": null},
                  "text": {"field": "t"}}},
    {"transform": [{"filter": "datum.kind == 'heading'"}],
     "mark": {"type": "text", "align": "center", "baseline": "middle", "font": "Liberation Serif", "fontSize": 31.5, "fontWeight": "bold", "color": "#231f20", "clip": true},
     "encoding": {"x": {"datum": 0.5, "type": "quantitative", "axis": null},
                  "y": {"field": "line", "type": "quantitative", "axis": null},
                  "text": {"field": "t"}}}
   ]}
 ]},
 {"spacing": 58, "vconcat": [
  {"spacing": 76, "vconcat": [
   {"spacing": 0, "hconcat": [
    {"width": 6, "height": 1, "view": {"stroke": null}, "data": {"values": []}, "mark": {"type": "text", "text": ""}, "encoding": {}},
    {"width": 365, "height": 268, "data": {"name": "c3"},
     "layer": [
      {"mark": {"type": "line", "color": "#231f20", "strokeWidth": 1.8, "clip": true},
       "encoding": {
        "x": {"field": "s", "type": "quantitative", "scale": {"domain": [20, 60], "nice": false, "zero": false},
              "axis": {"orient": "bottom", "values": [20,25,30,35,40,45,50,55,60], "labelExpr": "datum.value % 10 == 0 ? format(datum.value, 'd') : ''", "tickSize": {"condition": {"test": "datum.value % 10 == 0", "value": 4}, "value": 2.5}, "labelPadding": 4, "title": "s [μm]", "titlePadding": 15.5}},
        "y": {"field": "k", "type": "quantitative", "scale": {"domain": [0, 5], "nice": false},
              "axis": {"orient": "left", "values": [0,0.5,1,1.5,2,2.5,3,3.5,4,4.5,5], "labelExpr": "datum.value % 1 == 0 ? format(datum.value, 'd') : ''", "tickSize": {"condition": {"test": "datum.value % 1 == 0", "value": 4}, "value": 2.5}, "labelPadding": 5, "title": "Bunching [%]", "titlePadding": 8.5}}
       }},
      {"mark": {"type": "line", "color": "#3753a5", "strokeWidth": 1.8, "clip": true},
       "encoding": {"x": {"field": "s", "type": "quantitative", "axis": null}, "y": {"field": "b", "type": "quantitative", "axis": null}}},
      {"mark": {"type": "line", "color": "#ee1d23", "strokeWidth": 1.8, "clip": true},
       "encoding": {
        "x": {"field": "s", "type": "quantitative", "axis": {"orient": "top", "values": [20,25,30,35,40,45,50,55,60], "labels": false, "title": null, "tickSize": {"condition": {"test": "datum.value % 10 == 0", "value": -4}, "value": -2.5}}},
        "y": {"field": "r", "type": "quantitative", "axis": {"orient": "right", "values": [0,0.5,1,1.5,2,2.5,3,3.5,4,4.5,5], "labels": false, "title": null, "tickSize": {"condition": {"test": "datum.value % 1 == 0", "value": -4}, "value": -2.5}}}
       }}
     ],
     "resolve": {"axis": {"x": "independent", "y": "independent"}}
    }
   ]},
   {"spacing": 0, "hconcat": [
    {"width": 5, "height": 1, "view": {"stroke": null}, "data": {"values": []}, "mark": {"type": "text", "text": ""}, "encoding": {}},
    {"width": 349, "height": 257, "data": {"name": "c4"},
     "layer": [
      {"mark": {"type": "line", "color": "#3753a5", "strokeWidth": 1.8, "clip": true},
       "encoding": {
        "x": {"field": "s", "type": "quantitative", "scale": {"domain": [20, 60], "nice": false, "zero": false},
              "axis": {"orient": "bottom", "values": [20,25,30,35,40,45,50,55,60], "labelExpr": "datum.value % 10 == 0 ? format(datum.value, 'd') : ''", "tickSize": {"condition": {"test": "datum.value % 10 == 0", "value": 4}, "value": 2.5}, "labelPadding": 4, "title": "s [μm]", "titlePadding": 11.5}},
        "y": {"field": "b", "type": "quantitative", "scale": {"domain": [0, 5], "nice": false},
              "axis": {"orient": "left", "values": [0,0.25,0.5,0.75,1,1.25,1.5,1.75,2,2.25,2.5,2.75,3,3.25,3.5,3.75,4,4.25,4.5,4.75,5], "labelExpr": "abs(datum.value*2-round(datum.value*2)) < 0.001 ? replace(format(datum.value, '.1f'), '.', ',') : ''", "tickSize": {"condition": {"test": "abs(datum.value*2-round(datum.value*2)) < 0.001", "value": 4}, "value": 2.5}, "labelPadding": 5, "title": "Power [MW]", "titlePadding": 16}}
       }},
      {"mark": {"type": "line", "color": "#231f20", "strokeWidth": 1.8, "clip": true},
       "encoding": {"x": {"field": "s", "type": "quantitative", "axis": null}, "y": {"field": "k", "type": "quantitative", "axis": null}}},
      {"mark": {"type": "line", "color": "#ee1d23", "strokeWidth": 1.8, "clip": true},
       "encoding": {
        "x": {"field": "s", "type": "quantitative", "axis": {"orient": "top", "values": [20,25,30,35,40,45,50,55,60], "labels": false, "title": null, "tickSize": {"condition": {"test": "datum.value % 10 == 0", "value": -4}, "value": -2.5}}},
        "y": {"field": "r", "type": "quantitative", "axis": {"orient": "right", "values": [0,0.25,0.5,0.75,1,1.25,1.5,1.75,2,2.25,2.5,2.75,3,3.25,3.5,3.75,4,4.25,4.5,4.75,5], "labels": false, "title": null, "tickSize": {"condition": {"test": "abs(datum.value*2-round(datum.value*2)) < 0.001", "value": -4}, "value": -2.5}}}
       }}
     ],
     "resolve": {"axis": {"x": "independent", "y": "independent"}}
    }
   ]}
  ]},
  {"spacing": 0, "hconcat": [
   {"width": 2, "height": 1, "view": {"stroke": null}, "data": {"values": []}, "mark": {"type": "text", "text": ""}, "encoding": {}},
   {"width": 356, "height": 261,
    "layer": [
     {"data": {"name": "c5k"}, "mark": {"type": "line", "color": "#231f20", "strokeWidth": 1.3, "clip": true},
      "encoding": {
       "x": {"field": "l", "type": "quantitative", "scale": {"domain": [3.5, 4.5], "nice": false, "zero": false},
             "axis": {"orient": "bottom", "values": [3.5,3.55,3.6,3.65,3.7,3.75,3.8,3.85,3.9,3.95,4.0,4.05,4.1,4.15,4.2,4.25,4.3,4.35,4.4,4.45,4.5], "labelExpr": "abs(datum.value*10-round(datum.value*10)) < 0.001 ? replace(format(datum.value, '.1f'), '.', ',') : ''", "tickSize": {"condition": {"test": "abs(datum.value*10-round(datum.value*10)) < 0.001", "value": 4}, "value": 2.5}, "labelPadding": 5, "title": "λ [nm]", "titlePadding": 13.5}},
       "y": {"field": "p", "type": "quantitative", "scale": {"domain": [0, 1], "nice": false},
             "axis": {"orient": "left", "values": [0,0.1,0.2,0.3,0.4,0.5,0.6,0.7,0.8,0.9,1.0], "labelExpr": "abs(datum.value*5-round(datum.value*5)) < 0.001 ? replace(format(datum.value, '.1f'), '.', ',') : ''", "tickSize": {"condition": {"test": "abs(datum.value*5-round(datum.value*5)) < 0.001", "value": 4}, "value": 2.5}, "labelPadding": 5, "title": "Spectral Power [a. u.]", "titlePadding": 8}}
      }},
     {"data": {"name": "c5b"}, "mark": {"type": "line", "color": "#3753a5", "strokeWidth": 1.3, "clip": true},
      "encoding": {"x": {"field": "l", "type": "quantitative", "axis": null}, "y": {"field": "p", "type": "quantitative", "axis": null}}},
     {"data": {"name": "c5r"}, "mark": {"type": "line", "color": "#ee1d23", "strokeWidth": 1.3, "clip": true},
      "encoding": {
       "x": {"field": "l", "type": "quantitative", "axis": {"orient": "top", "values": [3.5,3.55,3.6,3.65,3.7,3.75,3.8,3.85,3.9,3.95,4.0,4.05,4.1,4.15,4.2,4.25,4.3,4.35,4.4,4.45,4.5], "labels": false, "title": null, "tickSize": {"condition": {"test": "abs(datum.value*10-round(datum.value*10)) < 0.001", "value": -4}, "value": -2.5}}},
       "y": {"field": "p", "type": "quantitative", "axis": {"orient": "right", "values": [0,0.1,0.2,0.3,0.4,0.5,0.6,0.7,0.8,0.9,1.0], "labels": false, "title": null, "tickSize": {"condition": {"test": "abs(datum.value*5-round(datum.value*5)) < 0.001", "value": -4}, "value": -2.5}}}
      }}
    ],
    "resolve": {"axis": {"x": "independent", "y": "independent"}}
   }
  ]}
 ]}
]
}
